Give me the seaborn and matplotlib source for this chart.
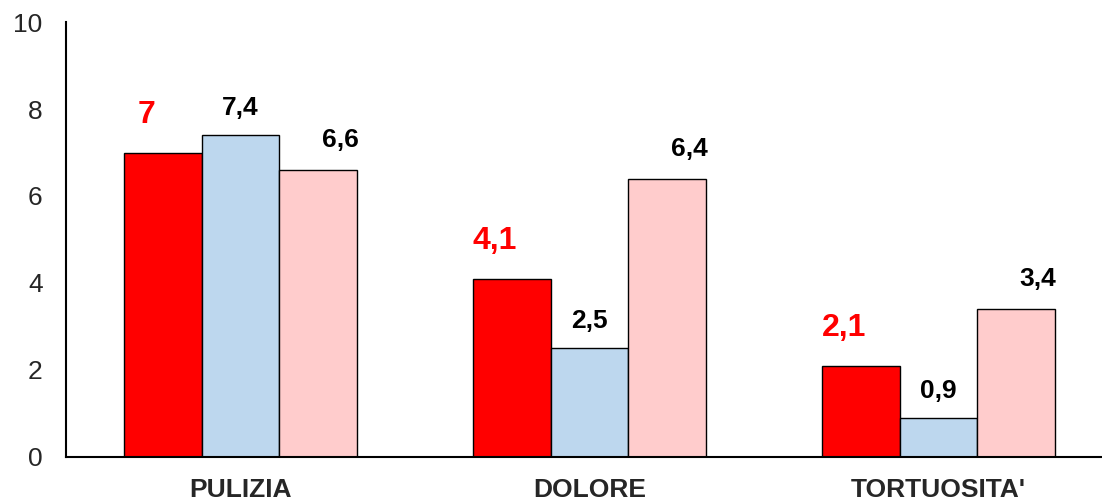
import matplotlib
matplotlib.use("Agg")
import matplotlib.pyplot as plt
import seaborn as sns
import pandas as pd

categories = ["PULIZIA", "DOLORE", "TORTUOSITA'"]
series_names = ["Serie 1", "Serie 2", "Serie 3"]
serie1 = [7.0, 4.1, 2.1]
serie2 = [7.4, 2.5, 0.9]
serie3 = [6.6, 6.4, 3.4]
y_ticks = [0, 2, 4, 6, 8, 10]

colors = ["#FF0000", "#BDD7EE", "#FFCCCC"]

rows = []
for name, vals in zip(series_names, [serie1, serie2, serie3]):
    for cat, v in zip(categories, vals):
        rows.append({"categoria": cat, "serie": name, "valore": v})
df = pd.DataFrame(rows)

sns.set_style("white")
plt.rcParams["font.family"] = ["Liberation Sans", "DejaVu Sans"]

fig = plt.figure(figsize=(11.02, 5.01), dpi=100)
ax = fig.add_axes([0.06, 0.088, 0.95, 0.868])

sns.barplot(data=df, x="categoria", y="valore", hue="serie", order=categories,
            hue_order=series_names, palette=colors, width=0.667, dodge=True,
            edgecolor="black", linewidth=1.0, saturation=1, legend=False, ax=ax)

ax.set_xlim(-0.5, 2.5)
ax.set_ylim(0, 10)
ax.set_yticks(y_ticks)
ax.set_yticklabels([str(t) for t in y_ticks], fontsize=19)
ax.set_xlabel("")
ax.set_ylabel("")
ax.set_xticks(range(len(categories)))
ax.set_xticklabels(categories, fontsize=19, fontweight="bold")
ax.set_xticks([-0.5, 0.5, 1.5, 2.5], minor=True)
ax.tick_params(axis="x", which="major", length=0, pad=15)
ax.tick_params(axis="x", which="minor", length=7, width=1.3, direction="out", color="black")
ax.tick_params(axis="y", length=7, width=1.3, direction="out", color="black", pad=10)

for side in ["top", "right"]:
    ax.spines[side].set_visible(False)
for side in ["left", "bottom"]:
    ax.spines[side].set_color("black")
    ax.spines[side].set_linewidth(1.5)

# value labels: first series in red and larger, others black
label_style = [
    dict(color="#FF0000", fontsize=23, offset=(-17, 38)),
    dict(color="black", fontsize=19, offset=(0, 27)),
    dict(color="black", fontsize=19, offset=(22, 30)),
]
for container, style in zip(ax.containers, label_style):
    for bar in container:
        h = bar.get_height()
        txt = f"{h:g}".replace(".", ",")
        ax.annotate(txt, (bar.get_x() + bar.get_width() / 2, h),
                    xytext=style["offset"], textcoords="offset pixels",
                    ha="center", va="center", fontsize=style["fontsize"],
                    fontweight="bold", color=style["color"])

fig.savefig("out.png", dpi=100)
